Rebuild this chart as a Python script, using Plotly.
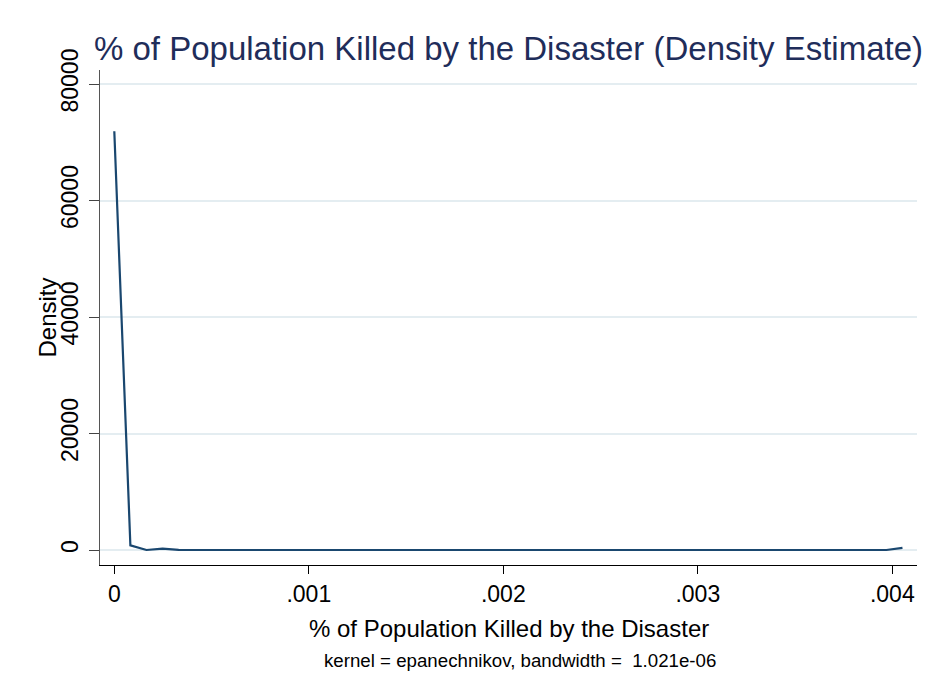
import plotly.graph_objects as go

# Evaluation grid (x) and density estimate (y)
x_vals = [0, 0.0000827, 0.0001654, 0.0002481, 0.0003308, 0.0004135, 0.0004962,
          0.0005789, 0.0006616, 0.0007443, 0.000827, 0.0009097, 0.0009924,
          0.0010751, 0.0011578, 0.0012405, 0.0013232, 0.0014059, 0.0014886,
          0.0015713, 0.001654, 0.0017367, 0.0018194, 0.0019021, 0.0019848,
          0.0020675, 0.0021502, 0.0022329, 0.0023156, 0.0023983, 0.002481,
          0.0025637, 0.0026464, 0.0027291, 0.0028118, 0.0028945, 0.0029772,
          0.0030599, 0.0031426, 0.0032253, 0.003308, 0.0033907, 0.0034734,
          0.0035561, 0.0036388, 0.0037215, 0.0038042, 0.0038869, 0.0039696,
          0.0040523]
density = [71900, 800, 0, 250, 30, 0, 0, 0, 0, 0,
           0, 0, 0, 0, 0, 0, 0, 0, 0, 0,
           0, 0, 0, 0, 0, 0, 0, 0, 0, 0,
           0, 0, 0, 0, 0, 0, 0, 0, 0, 0,
           0, 0, 0, 0, 0, 0, 0, 0, 0, 350]

x_ticks = [0, 0.001, 0.002, 0.003, 0.004]
x_tick_labels = ["0", ".001", ".002", ".003", ".004"]
y_ticks = [0, 20000, 40000, 60000, 80000]
y_tick_labels = ["0", "20000", "40000", "60000", "80000"]

title_text = "% of Population Killed by the Disaster (Density Estimate)"
x_title = "% of Population Killed by the Disaster"
y_title = "Density"
note_text = "kernel = epanechnikov, bandwidth =  1.021e-06"

FONT = "Liberation Sans, Arial, sans-serif"

fig = go.Figure()
fig.add_trace(go.Scatter(x=x_vals, y=density, mode="lines",
                         line=dict(color="#1a476f", width=2.2),
                         showlegend=False, hoverinfo="skip"))

W, H = 931, 683
OFF = 8  # page offset of the figure (default body margin)
# target plot-area edges in page pixels
PL, PR, PT, PB = 100, 917, 70, 565
L, T = PL - OFF, PT - OFF
R = W - (PR - OFF)
B = H - (PB - OFF)
pw, ph = PR - PL, PB - PT

def px_x(p):
    return (p - PL) / pw

def px_y(p):
    return (PB - p) / ph

fig.update_layout(
    width=W, height=H,
    margin=dict(l=L, r=R, t=T, b=B, pad=0),
    paper_bgcolor="white", plot_bgcolor="white",
    font=dict(family=FONT, color="black"),
    title=dict(text=title_text, x=0.5, xref="paper", xanchor="center",
               y=1 - (48 - OFF) / H, yref="container", yanchor="middle",
               font=dict(size=33, color="#1f2d5a", family=FONT)),
    xaxis=dict(range=[-0.0000735, 0.004127], tickvals=x_ticks, ticktext=x_tick_labels,
               ticks="outside", ticklen=8, tickcolor="black", tickwidth=1,
               showline=True, linecolor="black", linewidth=1,
               showgrid=False, zeroline=False,
               tickfont=dict(size=23, color="black", family=FONT)),
    yaxis=dict(range=[-2575, 82403], tickvals=y_ticks, ticktext=y_tick_labels,
               tickangle=-90, ticklabelstandoff=2,
               ticks="outside", ticklen=10, tickcolor="#444", tickwidth=1,
               showline=True, linecolor="#555", linewidth=1,
               showgrid=True, gridcolor="#e4edf1", gridwidth=1.5, zeroline=False,
               tickfont=dict(size=23, color="black", family=FONT)),
    annotations=[
        dict(text=x_title, xref="paper", yref="paper", x=0.5, y=px_y(628),
             xanchor="center", yanchor="middle", showarrow=False,
             font=dict(size=24, color="black", family=FONT)),
        dict(text=y_title, xref="paper", yref="paper", x=px_x(47), y=0.5,
             xanchor="center", yanchor="middle", textangle=-90, showarrow=False,
             font=dict(size=24, color="black", family=FONT)),
        dict(text=note_text, xref="paper", yref="paper", x=px_x(322), y=px_y(660),
             xanchor="left", yanchor="middle", showarrow=False,
             font=dict(size=18.7, color="black", family=FONT)),
    ],
    shapes=[
        dict(type="rect", xref="paper", yref="paper",
             x0=px_x(6), x1=px_x(W + 20), y0=px_y(H + 20), y1=px_y(5),
             line=dict(color="#e3ecee", width=1.5), fillcolor="rgba(0,0,0,0)",
             layer="below"),
    ],
)

fig.write_html("out.html")
